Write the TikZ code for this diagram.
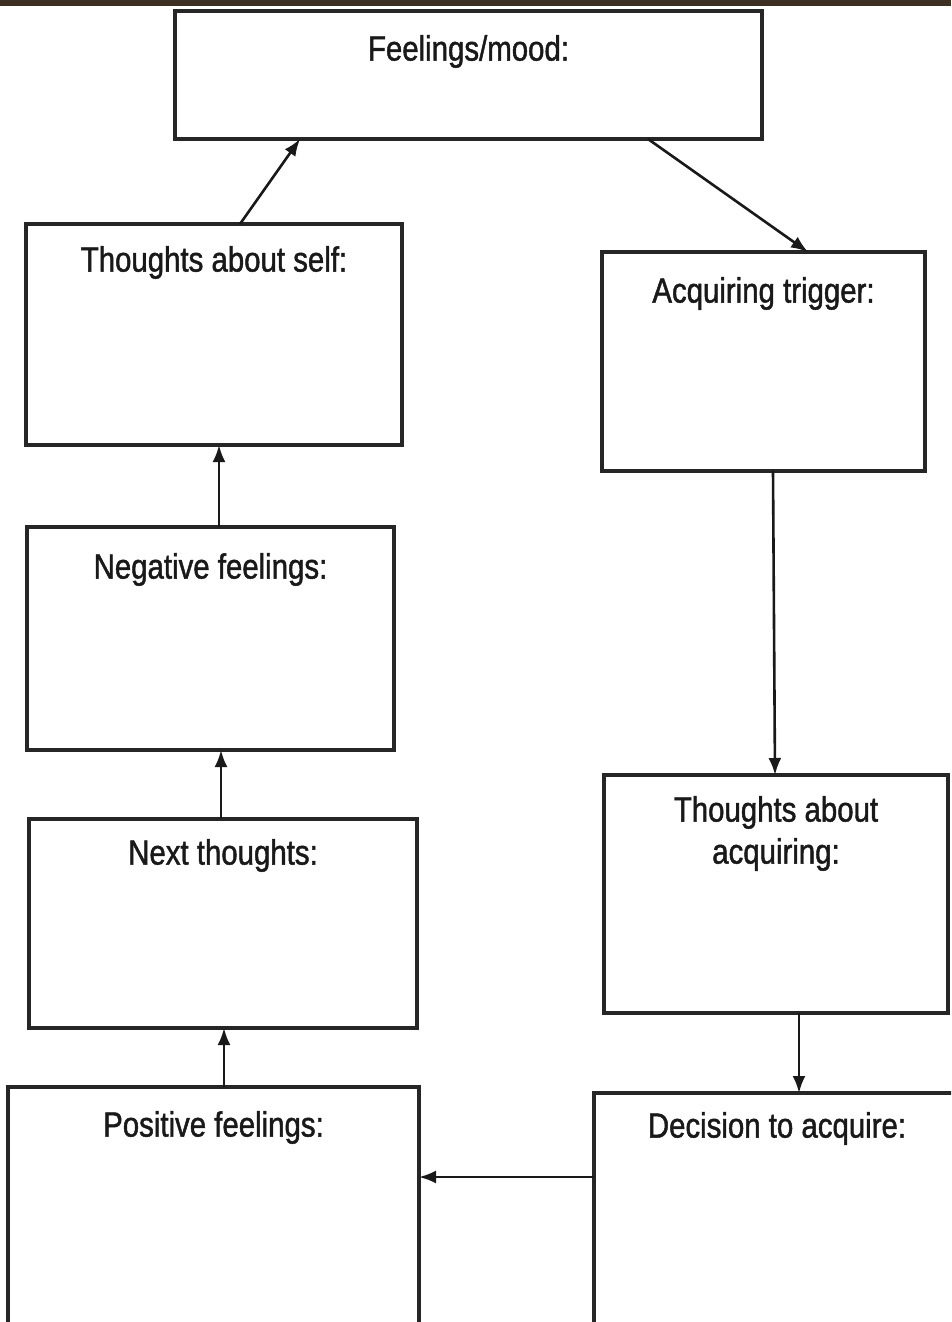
\documentclass[tikz,border=0pt]{standalone}
\usepackage{fontspec}
\newfontfamily\labfont{Liberation Sans}[FakeStretch=0.84,FakeBold=1.3]
\usetikzlibrary{arrows.meta}
\definecolor{band}{RGB}{61,48,33}
\tikzset{
  box/.style={draw=black!85, line width=3.2pt, rectangle, inner sep=0pt, outer sep=0pt, fill=white},
  lab/.style={anchor=north, inner sep=0pt, font=\labfont\fontsize{35}{42}\selectfont, align=center, text=black!90},
  arr/.style={line width=2.6pt, draw=black!90, -{Latex[length=17pt,width=13pt]}}
}
\begin{document}
\begin{tikzpicture}[x=1pt,y=-1pt]
\useasboundingbox (0,0) rectangle (951,1322);
\clip (0,0) rectangle (951,1322);
\fill[white] (0,0) rectangle (951,1322);
\fill[band] (0,0) rectangle (951,6);

\node[box, minimum width=587pt, minimum height=128pt,
  label={[lab, yshift=-24pt]north:Feelings/mood:}] (feel) at (468.5,75) {};
\node[box, minimum width=376pt, minimum height=221pt,
  label={[lab, yshift=-22pt]north:Thoughts about self:}] (self) at (214,334.5) {};
\node[box, minimum width=323pt, minimum height=219pt,
  label={[lab, yshift=-25pt]north:Acquiring trigger:}] (trig) at (763.5,361.5) {};
\node[box, minimum width=367pt, minimum height=223pt,
  label={[lab, yshift=-26pt]north:Negative feelings:}] (neg) at (210.5,638.5) {};
\node[box, minimum width=344pt, minimum height=238pt,
  label={[lab, yshift=-21pt]north:Thoughts about\\acquiring:}] (tacq) at (776,894) {};
\node[box, minimum width=388pt, minimum height=209pt,
  label={[lab, yshift=-20pt]north:Next thoughts:}] (next) at (223,923.5) {};
\node[box, minimum width=411pt, minimum height=270pt,
  label={[lab, yshift=-24pt]north:Positive feelings:}] (pos) at (213.5,1222) {};
\node[box, minimum width=366pt, minimum height=270pt,
  label={[lab, yshift=-19pt]north:Decision to acquire:}] (dec) at (777,1228) {};

\draw[arr] ([xshift=214pt]self.north west) -- ([xshift=125pt]feel.south west);
\draw[arr] ([xshift=473pt]feel.south west) -- ([xshift=206pt]trig.north west);
\draw[arr] ([xshift=171pt]trig.south west) -- ([xshift=171pt]tacq.north west);
\draw[arr] ([xshift=195pt]tacq.south west) -- ([xshift=205pt]dec.north west);
\draw[arr] ([yshift=-84pt]dec.north west) -- ([yshift=-90pt]pos.north east);
\draw[arr] ([xshift=216pt]pos.north west) -- ([xshift=195pt]next.south west);
\draw[arr] ([xshift=192pt]next.north west) -- ([xshift=194pt]neg.south west);
\draw[arr] ([xshift=192pt]neg.north west) -- ([xshift=193pt]self.south west);
\end{tikzpicture}
\end{document}
